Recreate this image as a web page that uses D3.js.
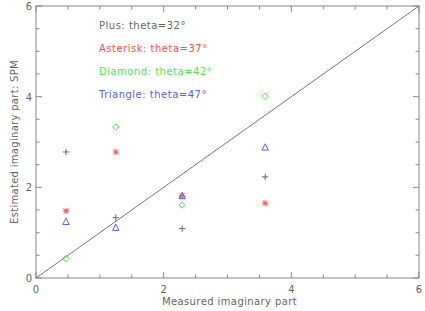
<!DOCTYPE html>
<html>
<head>
<meta charset="utf-8">
<script src="https://cdn.jsdelivr.net/npm/d3@7"></script>
<style>
  body { margin: 0; background: #fff; }
  text { font-family: "DejaVu Sans", sans-serif; }
</style>
</head>
<body>
<div class="chart"></div>
<script>
// Measured values (x) shared by all series
const measured = [0.47, 1.25, 2.29, 3.59];

// Estimated values per incidence angle
const plusVals = [2.78, 1.33, 1.09, 2.23];
const asteriskVals = [1.48, 2.78, 1.81, 1.65];
const diamondVals = [0.43, 3.33, 1.61, 4.01];
const triangleVals = [1.24, 1.11, 1.81, 2.88];

const legendLabels = ["Plus: theta=32°", "Asterisk: theta=37°", "Diamond: theta=42°", "Triangle: theta=47°"];
const tickValues = [0, 2, 4, 6];

const series = [
    { name: "plus", values: plusVals, color: "#666666" },
    { name: "asterisk", values: asteriskVals, color: "#ff4a4a" },
    { name: "diamond", values: diamondVals, color: "#4ae84a" },
    { name: "triangle", values: triangleVals, color: "#5a5aff" }
];

const W = 425, H = 311;
const margin = { top: 6, right: 6, bottom: 33, left: 36 };
const width = W - margin.left - margin.right;
const height = H - margin.top - margin.bottom;

const svg = d3.select(".chart")
    .append("svg")
    .attr("width", W)
    .attr("height", H);

const g = svg.append("g")
    .attr("transform", `translate(${margin.left}, ${margin.top})`);

const x = d3.scaleLinear().domain([0, 6]).range([0, width]);
const y = d3.scaleLinear().domain([0, 6]).range([height, 0]);

const axisColor = "#888";
const textColor = "#666";

// frame
g.append("rect")
    .attr("width", width)
    .attr("height", height)
    .attr("fill", "none")
    .attr("stroke", axisColor)
    .attr("stroke-width", 1);

// ticks on all four sides, pointing inward
const minor = d3.range(0, 6.01, 0.5);
minor.forEach(v => {
    const len = v % 2 === 0 ? 6 : 3.5;
    g.append("line").attr("x1", x(v)).attr("x2", x(v)).attr("y1", height).attr("y2", height - len).attr("stroke", axisColor);
    g.append("line").attr("x1", x(v)).attr("x2", x(v)).attr("y1", 0).attr("y2", len).attr("stroke", axisColor);
    g.append("line").attr("y1", y(v)).attr("y2", y(v)).attr("x1", 0).attr("x2", len).attr("stroke", axisColor);
    g.append("line").attr("y1", y(v)).attr("y2", y(v)).attr("x1", width).attr("x2", width - len).attr("stroke", axisColor);
});

// tick labels
g.selectAll(".xlab")
    .data(tickValues)
    .enter()
    .append("text")
    .attr("x", d => x(d))
    .attr("y", height + 15)
    .attr("text-anchor", "middle")
    .attr("font-size", 10)
    .attr("fill", textColor)
    .text(d => d);

g.selectAll(".ylab")
    .data(tickValues)
    .enter()
    .append("text")
    .attr("x", -4)
    .attr("y", d => y(d) + 4)
    .attr("text-anchor", "end")
    .attr("font-size", 10)
    .attr("fill", textColor)
    .text(d => d);

// axis titles
svg.append("text")
    .attr("x", margin.left + width / 2 + 2)
    .attr("y", 305)
    .attr("text-anchor", "middle")
    .attr("font-size", 10)
    .attr("letter-spacing", 0.4)
    .attr("fill", textColor)
    .text("Measured imaginary part");

svg.append("text")
    .attr("transform", `translate(18, ${margin.top + height / 2}) rotate(-90)`)
    .attr("text-anchor", "middle")
    .attr("font-size", 10)
    .attr("letter-spacing", 0.3)
    .attr("fill", textColor)
    .text("Estimated imaginary part: SPM");

// 1:1 line
g.append("line")
    .attr("x1", x(0)).attr("y1", y(0))
    .attr("x2", x(6)).attr("y2", y(6))
    .attr("stroke", "#777")
    .attr("stroke-width", 1);

// markers
function drawMarker(sel, type, color) {
    const s = 3.2;
    if (type === "plus") {
        sel.append("path").attr("d", `M${-s},0H${s}M0,${-s}V${s}`).attr("stroke", color).attr("fill", "none");
    } else if (type === "asterisk") {
        sel.append("path")
            .attr("d", `M${-s},0H${s}M0,${-s}V${s}M${-s * 0.8},${-s * 0.8}L${s * 0.8},${s * 0.8}M${-s * 0.8},${s * 0.8}L${s * 0.8},${-s * 0.8}`)
            .attr("stroke", color).attr("fill", "none");
    } else if (type === "diamond") {
        sel.append("path").attr("d", `M0,${-s}L${s},0L0,${s}L${-s},0Z`).attr("stroke", color).attr("fill", "none");
    } else {
        sel.append("path").attr("d", `M0,${-s - 0.5}L${s},${s - 0.5}L${-s},${s - 0.5}Z`).attr("stroke", color).attr("fill", "none");
    }
}

series.forEach(sr => {
    g.selectAll(".m-" + sr.name)
        .data(sr.values)
        .enter()
        .append("g")
        .attr("class", "m-" + sr.name)
        .attr("transform", (d, i) => `translate(${x(measured[i])}, ${y(d)})`)
        .each(function() { drawMarker(d3.select(this), sr.name, sr.color); });
});

// legend
svg.selectAll(".legend")
    .data(legendLabels)
    .enter()
    .append("text")
    .attr("x", 99)
    .attr("y", (d, i) => 29 + i * 23)
    .attr("font-size", 10)
    .attr("letter-spacing", 0.5)
    .attr("fill", (d, i) => series[i].color)
    .text(d => d);
</script>
</body>
</html>
